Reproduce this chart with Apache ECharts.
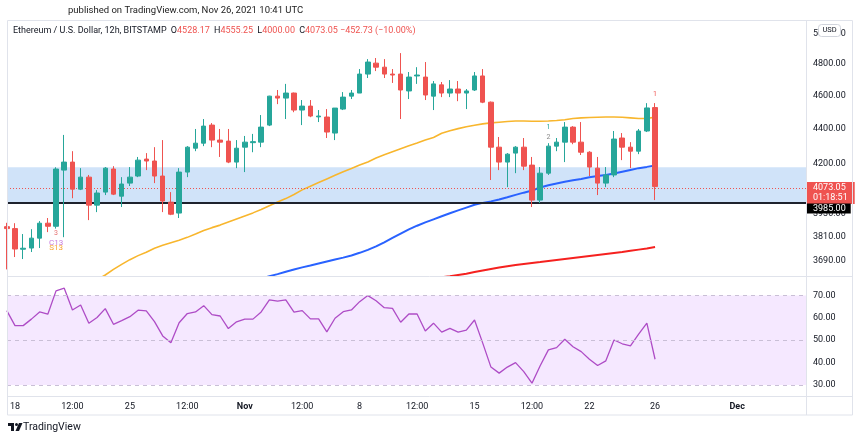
<!DOCTYPE html>
<html><head><meta charset="utf-8">
<script src="https://cdn.jsdelivr.net/npm/echarts@6/dist/echarts.min.js"></script>
<style>html,body{margin:0;padding:0;background:#fff}#c{width:861px;height:440px}</style>
</head><body><div id="c"></div><script>
// ---- data (12h candles, ETH/USD BITSTAMP, from 2021-10-17 12:00 UTC) ----
const openP  = [3860,3850,3745,3751,3801,3878,3862,4164,4209,4059,4125,3973,4043,4170,4021,4092,4131,4226,4215,4131,
                3989,3931,4153,4288,4317,4423,4335,4329,4209,4294,4320,4323,4423,4598,4586,4617,4513,4537,4472,4471,
                4376,4519,4598,4617,4736,4806,4780,4736,4736,4630,4724,4717,4598,4668,4617,4642,4617,4636,4724,4561,
                4294,4209,4260,4294,4192,4000,4147,4300,4323,4411,4323,4265,4175,4092,4137,4347,4294,4271,4388,4528.17];
const highP  = [3880,3878,3822,3847,3889,3905,4180,4365,4271,4175,4137,4054,4181,4186,4125,4181,4238,4260,4294,4335,
                4043,4175,4300,4400,4459,4435,4400,4400,4335,4359,4371,4483,4600,4636,4674,4620,4574,4574,4513,4519,
                4525,4623,4636,4768,4832,4839,4832,4768,4871,4749,4780,4813,4692,4686,4698,4692,4642,4749,4768,4565,
                4353,4260,4300,4347,4238,4181,4317,4347,4441,4417,4441,4271,4238,4181,4388,4376,4323,4400,4555,4555.25];
const lowP   = [3645,3706,3696,3731,3751,3832,3850,3806,4010,4054,3894,3936,4027,4027,3963,4076,4125,4164,4092,3936,
                3920,3905,4125,4271,4300,4294,4238,4203,4175,4153,4265,4294,4417,4549,4459,4500,4423,4470,4441,4347,
                4335,4513,4580,4617,4711,4755,4711,4680,4459,4580,4674,4574,4513,4592,4592,4567,4519,4630,4555,4109,
                4164,4070,4147,4164,3963,3984,4137,4271,4209,4311,4249,4131,4027,4070,4125,4220,4175,4254,4382,4000];
const closeP = [3850,3746,3750,3801,3878,3862,4170,4209,4059,4125,3973,4038,4175,4032,4087,4125,4220,4215,4131,3995,
                3925,4153,4294,4317,4417,4335,4323,4209,4288,4323,4326,4411,4598,4586,4617,4513,4537,4477,4477,4382,
                4525,4592,4617,4736,4813,4780,4736,4730,4636,4717,4730,4605,4674,4617,4642,4617,4630,4724,4561,4294,
                4209,4254,4294,4186,4000,4147,4300,4323,4411,4323,4265,4181,4092,4137,4341,4294,4271,4388,4525.78,4073.05];
// moving averages (yellow 50, blue 100, red 200); null = below the visible range
const maYellow = [null,null,null,null,null,null,null,null,null,null,null,3594,3618,3645,3670,3693,3713,3730,3750,3765,
                  3778,3790,3805,3822,3840,3855,3868,3884,3900,3916,3932,3950,3970,3990,4008,4030,4055,4075,4095,4115,
                  4135,4155,4173,4192,4210,4232,4250,4268,4285,4302,4318,4335,4350,4375,4390,4402,4413,4422,4430,4436,
                  4440,4444,4447,4447,4446,4446,4447,4450,4455,4462,4466,4468,4470,4471,4471,4470,4466,4462,4463,4470];
const maBlue = [null,null,null,null,null,null,null,null,null,null,null,null,null,null,null,null,null,null,null,null,
                null,null,null,null,null,null,null,null,null,null,null,3600,3612,3622,3634,3645,3655,3664,3674,3684,
                3694,3703,3714,3727,3742,3759,3780,3802,3824,3846,3865,3882,3898,3914,3930,3945,3960,3975,3985,3993,
                4003,4015,4028,4040,4052,4068,4080,4090,4100,4108,4115,4124,4131,4137,4145,4155,4165,4175,4182,4190];
const maRed = [null,null,null,null,null,null,null,null,null,null,null,null,null,null,null,null,null,null,null,null,
               null,null,null,null,null,null,null,null,null,null,null,null,null,null,null,null,null,null,null,null,
               null,null,null,null,null,null,null,null,null,null,null,null,null,3607,3612,3618,3624,3632,3640,3647,
               3654,3661,3667,3672,3677,3681,3686,3691,3696,3701,3706,3711,3716,3721,3726,3731,3737,3743,3749,3756];
const rsi = [63.2,56.5,56.5,59.4,62.6,61.6,72.0,73.2,63.5,65.7,57.6,60.1,64.1,57.1,58.7,60.5,63.4,63.1,58.3,51.9,
             48.9,57.8,61.9,62.6,65.4,61.4,60.8,55.2,58.2,59.4,59.4,62.6,68.0,67.4,68.0,62.5,63.2,59.5,59.5,53.7,
             59.8,62.7,63.5,67.2,69.9,67.6,64.5,64.2,58.0,61.7,61.7,54.1,57.6,53.6,55.3,53.6,54.5,59.0,48.7,38.0,
             35.3,38.0,40.0,36.0,30.8,38.6,45.7,46.7,50.4,47.1,44.9,41.5,38.7,40.8,50.1,48.4,47.5,52.7,57.6,41.5];
const priceTicks = [3690, 3810, 3930, 4200, 4400, 4600, 4800, 5000];
const rsiTicks = [30, 40, 50, 60, 70];
const timeTickDates = ['2021-10-18T00:00Z','2021-10-21T12:00Z','2021-10-25T00:00Z','2021-10-28T12:00Z','2021-11-01T00:00Z',
  '2021-11-04T12:00Z','2021-11-08T00:00Z','2021-11-11T12:00Z','2021-11-15T00:00Z','2021-11-18T12:00Z','2021-11-22T00:00Z',
  '2021-11-26T00:00Z','2021-12-01T00:00Z'];
const timeTickText = ['18','12:00','25','12:00','Nov','12:00','8','12:00','15','12:00','22','26','Dec'];
const zoneLow = 3985, zoneHigh = 4180;
const countdown = '01:18:51';

// ---- build ----
const START = Date.UTC(2021, 9, 17, 12), HALF = 12 * 3600 * 1000;
const tickIdx = timeTickDates.map(d => Math.round((Date.parse(d) - START) / HALF));
const L = Math.log;
const FONT = 'Roboto, "Liberation Sans", sans-serif';
const TXT = '#131722', UP = '#26a69a', DOWN = '#ef5350', BORDER = '#e0e3eb';
const xMin = 0.0256, xMax = 97.394;
const n = closeP.length;
const last = n - 1;
const lastO = openP[last], lastH = highP[last], lastL = lowP[last], lastC = closeP[last];
const chg = lastC - closeP[last - 1], chgPct = chg / closeP[last - 1] * 100;
const fmtS = v => (v < 0 ? '\u2212' : '+') + Math.abs(v).toFixed(2);

const lineData = arr => arr.map((v, i) => v == null ? null : [i, L(v)]).filter(Boolean);

const chart = echarts.init(document.getElementById('c'), null, {renderer: 'canvas'});
chart.setOption({
  animation: false,
  textStyle: {fontFamily: FONT},
  grid: [
    {left: 7, top: 20, width: 799, height: 256},
    {left: 7, top: 277, width: 799, height: 119}
  ],
  xAxis: [
    {type: 'value', gridIndex: 0, min: xMin, max: xMax, axisLine: {show: false}, axisTick: {show: false},
     axisLabel: {show: false}, splitLine: {show: false}},
    {type: 'value', gridIndex: 1, min: xMin, max: xMax, axisLine: {show: false}, axisTick: {show: false},
     splitLine: {show: false},
     axisLabel: {show: true, customValues: tickIdx, margin: 6, fontSize: 9, color: TXT, fontFamily: FONT,
       formatter: v => { const k = tickIdx.indexOf(Math.round(v)); const t = timeTickText[k];
         return (t === 'Nov' || t === 'Dec') ? '{b|' + t + '}' : t; },
       rich: {b: {fontWeight: 'bold', fontSize: 9, color: TXT, fontFamily: FONT}}}}
  ],
  yAxis: [
    {type: 'value', gridIndex: 0, position: 'right', min: L(3613), max: L(5092), axisLine: {show: false},
     axisTick: {show: false}, splitLine: {show: false},
     axisLabel: {customValues: priceTicks.map(L), margin: 7, fontSize: 9, color: TXT, fontFamily: FONT,
       formatter: v => Math.exp(v).toFixed(2)}},
    {type: 'value', gridIndex: 1, position: 'right', min: 25.1, max: 78.2, axisLine: {show: false},
     axisTick: {show: false}, splitLine: {show: false},
     axisLabel: {customValues: rsiTicks, margin: 7, fontSize: 9, color: TXT, fontFamily: FONT,
       formatter: v => v.toFixed(2)}}
  ],
  series: [
    { // support zone + price lines
      type: 'line', xAxisIndex: 0, yAxisIndex: 0, z: 1, silent: true, symbol: 'none',
      data: [[0, L(zoneLow)]], lineStyle: {opacity: 0},
      markArea: {silent: true, itemStyle: {color: '#d0e3f9'}, data: [[{yAxis: L(zoneHigh)}, {yAxis: L(zoneLow)}]]},
      markLine: {silent: true, symbol: 'none', animation: false, data: [
        {yAxis: L(lastC), lineStyle: {color: DOWN, type: [1, 2], width: 1},
         label: {show: true, position: 'end', distance: 0, formatter: lastC.toFixed(2) + '\n' + countdown,
           color: '#fff', backgroundColor: DOWN, padding: [2, 7, 1, 7], fontSize: 9, lineHeight: 9.5,
           offset: [0, 4.7], fontFamily: FONT}},
        {yAxis: L(zoneLow), lineStyle: {color: '#1e222d', type: 'solid', width: 2},
         label: {show: true, position: 'end', distance: 0, formatter: zoneLow.toFixed(2),
           color: '#fff', backgroundColor: '#000', padding: [1, 5, 0, 7], fontSize: 9, lineHeight: 9,
           offset: [0, 5.3], fontFamily: FONT}}
      ]}
    },
    {type: 'line', xAxisIndex: 0, yAxisIndex: 0, z: 3, silent: true, symbol: 'none', clip: true,
     data: lineData(maYellow), lineStyle: {color: '#f8b62d', width: 1.6}},
    {type: 'line', xAxisIndex: 0, yAxisIndex: 0, z: 3, silent: true, symbol: 'none', clip: true,
     data: lineData(maBlue), lineStyle: {color: '#2962ff', width: 2}},
    {type: 'line', xAxisIndex: 0, yAxisIndex: 0, z: 3, silent: true, symbol: 'none', clip: true,
     data: lineData(maRed), lineStyle: {color: '#f5211f', width: 2}},
    {
      type: 'candlestick', xAxisIndex: 0, yAxisIndex: 0, z: 5, clip: true, barWidth: 5,
      data: closeP.map((c, i) => [i, L(openP[i]), L(c), L(lowP[i]), L(highP[i])]),
      itemStyle: {color: UP, color0: DOWN, borderColor: UP, borderColor0: DOWN, borderWidth: 1},
      markPoint: {silent: true, symbolSize: 0, animation: false, data: [
        {coord: [0, L(highP[0])], value: '1', label: {offset: [0, -7], color: DOWN}},
        {coord: [6, L(lowP[6])], value: '3', label: {offset: [0, 4.6], color: '#e57373'}},
        {coord: [6, L(lowP[6])], value: 'C13', label: {offset: [0, 14], color: '#c77dde', fontSize: 8}},
        {coord: [6, L(lowP[6])], value: 'S13', label: {offset: [0, 19], color: '#f7a531', fontSize: 8}},
        {coord: [66, L(highP[66])], value: '1', label: {offset: [0, -16], color: UP}},
        {coord: [66, L(highP[66])], value: '2', label: {offset: [0, -6], color: '#888'}},
        {coord: [79, L(highP[79])], value: '1', label: {offset: [0, -9], color: DOWN}}
      ], label: {show: true, position: 'inside', fontSize: 7, fontFamily: FONT, formatter: p => p.value}}
    },
    { // RSI
      type: 'line', xAxisIndex: 1, yAxisIndex: 1, z: 3, silent: true, symbol: 'none',
      data: rsi.map((v, i) => [i, v]), lineStyle: {color: '#ae4cc6', width: 1.3},
      markArea: {silent: true, itemStyle: {color: '#f5e8ff'}, data: [[{yAxis: 70}, {yAxis: 30}]]},
      markLine: {silent: true, symbol: 'none', label: {show: false},
        lineStyle: {color: '#c9bfd6', type: [4, 4], width: 1},
        data: [{yAxis: 70}, {yAxis: 50}, {yAxis: 30}]}
    }
  ],
  graphic: [
    {type: 'text', z: 100, style: {x: 68, y: 11, text: 'published on TradingView.com, Nov 26, 2021 10:41 UTC',
      fill: '#222', font: '9.5px ' + FONT, textVerticalAlign: 'middle'}},
    {type: 'text', z: 100, style: {x: 13, y: 31, textVerticalAlign: 'middle', font: '9px ' + FONT, fill: TXT,
      text: 'Ethereum / U.S. Dollar, 12h, BITSTAMP {k|O}{v|' + lastO.toFixed(2) + '} {k|H}{v|' + lastH.toFixed(2) +
        '} {k|L}{v|' + lastL.toFixed(2) + '} {k|C}{v|' + lastC.toFixed(2) + '} {v|' + fmtS(chg) + ' (' + fmtS(chgPct) + '%)}',
      rich: {k: {fill: TXT, font: '9px ' + FONT, padding: [0, 0, 0, 2]}, v: {fill: DOWN, font: '9px ' + FONT}}}},
    // frame
    {type: 'rect', z: 50, silent: true, shape: {x: 7.5, y: 20.5, width: 845, height: 394.5},
      style: {fill: null, stroke: BORDER, lineWidth: 1}},
    {type: 'line', z: 50, silent: true, shape: {x1: 7, y1: 276.5, x2: 852, y2: 276.5}, style: {stroke: BORDER, lineWidth: 1}},
    {type: 'line', z: 50, silent: true, shape: {x1: 7, y1: 396.5, x2: 852, y2: 396.5}, style: {stroke: BORDER, lineWidth: 1}},
    {type: 'line', z: 50, silent: true, shape: {x1: 806.5, y1: 20, x2: 806.5, y2: 415}, style: {stroke: BORDER, lineWidth: 1}},
    // USD badge
    {type: 'rect', z: 100, shape: {x: 818.5, y: 24.5, width: 22, height: 12, r: 3},
      style: {fill: '#fff', stroke: '#d1d4dc', lineWidth: 1}},
    {type: 'text', z: 101, style: {x: 829.5, y: 30.5, text: 'USD', fill: TXT, font: '7.5px ' + FONT,
      textAlign: 'center', textVerticalAlign: 'middle'}},
    // TradingView logo
    {type: 'group', left: 8, top: 423, z: 100, children: [
      {type: 'rect', shape: {x: 0, y: 0, width: 6, height: 3}, style: {fill: TXT}},
      {type: 'rect', shape: {x: 3, y: 0, width: 3, height: 8}, style: {fill: TXT}},
      {type: 'circle', shape: {cx: 8.5, cy: 1.5, r: 1.5}, style: {fill: TXT}},
      {type: 'polygon', shape: {points: [[11, 0], [14.5, 0], [11, 8], [7.5, 8]]}, style: {fill: TXT}}
    ]},
    {type: 'text', z: 100, style: {x: 23, y: 427.5, text: 'TradingView', fill: TXT, font: '10.5px ' + FONT,
      textVerticalAlign: 'middle'}}
  ]
});
</script></body></html>
